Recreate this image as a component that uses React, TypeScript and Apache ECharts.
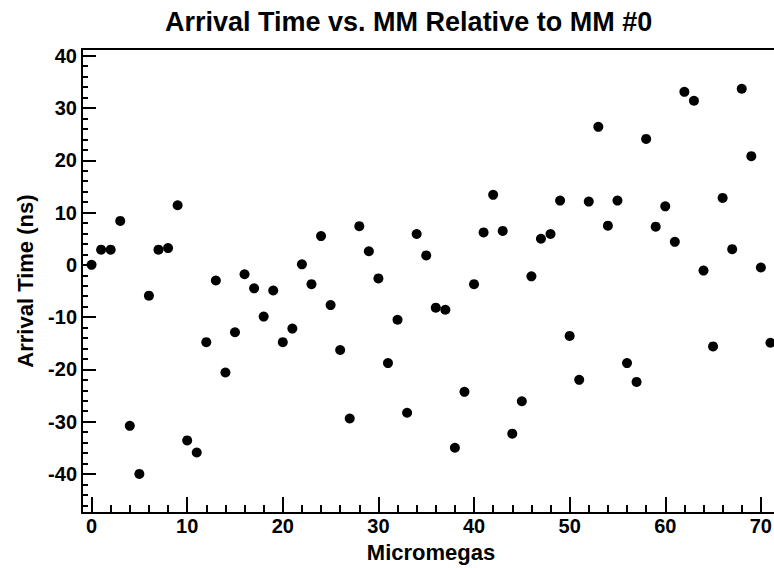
import React, { useEffect, useRef } from "react";
import * as echarts from "echarts";

const micromegas = [
  0, 1, 2, 3, 4, 5, 6, 7, 8, 9, 10, 11, 12, 13, 14, 15, 16, 17, 18, 19, 20, 21, 22, 23,
  24, 25, 26, 27, 28, 29, 30, 31, 32, 33, 34, 35, 36, 37, 38, 39, 40, 41, 42, 43, 44, 45, 46, 47,
  48, 49, 50, 51, 52, 53, 54, 55, 56, 57, 58, 59, 60, 61, 62, 63, 64, 65, 66, 67, 68, 69, 70, 71,
];

const arrivalTime = [
  0, 2.9, 2.9, 8.4, -30.8, -40.0, -5.9, 2.9, 3.2, 11.4, -33.6, -35.9,
  -14.8, -3.0, -20.6, -12.9, -1.8, -4.5, -9.9, -4.9, -14.8, -12.2, 0.1, -3.7,
  5.5, -7.7, -16.3, -29.4, 7.4, 2.6, -2.6, -18.8, -10.5, -28.3, 5.9, 1.8,
  -8.2, -8.6, -35.0, -24.3, -3.7, 6.2, 13.4, 6.5, -32.3, -26.1, -2.2, 5.0,
  5.9, 12.3, -13.6, -22.0, 12.1, 26.4, 7.5, 12.3, -18.8, -22.4, 24.1, 7.3,
  11.2, 4.4, 33.1, 31.4, -1.1, -15.6, 12.8, 3.0, 33.7, 20.8, -0.5, -14.9,
];

const xMajorTicks = [0, 10, 20, 30, 40, 50, 60, 70];
const xMinorTicks = [
  2, 4, 6, 8, 12, 14, 16, 18, 22, 24, 26, 28, 32, 34, 36, 38, 42, 44, 46, 48,
  52, 54, 56, 58, 62, 64, 66, 68,
];
const yMajorTicks = [-40, -30, -20, -10, 0, 10, 20, 30, 40];
const yMinorTicks = [
  -46, -44, -42, -38, -36, -34, -32, -28, -26, -24, -22, -18, -16, -14, -12,
  -8, -6, -4, -2, 2, 4, 6, 8, 12, 14, 16, 18, 22, 24, 26, 28, 32, 34, 36, 38,
];

const FONT = "'Liberation Sans', Arial, Helvetica, sans-serif";
const X_MIN = -1;
const X_MAX = 72;
const Y_MIN = -47.5;
const Y_MAX = 41.3;

export default function App() {
  const ref = useRef<HTMLDivElement>(null);

  useEffect(() => {
    if (!ref.current) return;
    const chart = echarts.init(ref.current, undefined, { renderer: "svg" });
    const tickLine = { color: "#000", width: 2 };
    const labelStyle = {
      fontSize: 20,
      fontWeight: "bold" as const,
      color: "#000",
      fontFamily: FONT,
    };
    chart.setOption({
      animation: false,
      backgroundColor: "#fff",
      title: {
        text: "Arrival Time vs. MM Relative to MM #0",
        left: 165,
        top: 8,
        padding: 0,
        textStyle: { fontSize: 27, fontWeight: "bold", color: "#000", fontFamily: FONT },
      },
      grid: {
        left: 82,
        right: 20,
        top: 49,
        bottom: 47,
        show: true,
        borderColor: "#000",
        borderWidth: 2,
        backgroundColor: "transparent",
      },
      xAxis: [
        {
          type: "value",
          min: X_MIN,
          max: X_MAX,
          position: "bottom",
          axisLine: { show: true, onZero: false, lineStyle: { color: "#000", width: 2 } },
          axisTick: { show: true, inside: true, length: 16, customValues: xMajorTicks, lineStyle: tickLine },
          axisLabel: { ...labelStyle, margin: 3, customValues: xMajorTicks },
          splitLine: { show: false },
          name: "Micromegas",
          nameLocation: "middle",
          nameGap: 24,
          nameTextStyle: { fontSize: 22, fontWeight: "bold", color: "#000", fontFamily: FONT },
        },
        {
          type: "value",
          min: X_MIN,
          max: X_MAX,
          position: "bottom",
          axisLine: { show: false, onZero: false },
          axisTick: { show: true, inside: true, length: 8, customValues: xMinorTicks, lineStyle: tickLine },
          axisLabel: { show: false },
          splitLine: { show: false },
        },
      ],
      yAxis: [
        {
          type: "value",
          min: Y_MIN,
          max: Y_MAX,
          position: "left",
          axisLine: { show: true, onZero: false, lineStyle: { color: "#000", width: 2 } },
          axisTick: { show: true, inside: true, length: 14, customValues: yMajorTicks, lineStyle: tickLine },
          axisLabel: { ...labelStyle, margin: 5, customValues: yMajorTicks },
          splitLine: { show: false },
          name: "Arrival Time (ns)",
          nameLocation: "middle",
          nameGap: 46,
          nameRotate: 90,
          nameTextStyle: { fontSize: 22, fontWeight: "bold", color: "#000", fontFamily: FONT },
        },
        {
          type: "value",
          min: Y_MIN,
          max: Y_MAX,
          position: "left",
          axisLine: { show: false, onZero: false },
          axisTick: { show: true, inside: true, length: 6, customValues: yMinorTicks, lineStyle: tickLine },
          axisLabel: { show: false },
          splitLine: { show: false },
        },
      ],
      series: [
        {
          type: "scatter",
          xAxisIndex: 0,
          yAxisIndex: 0,
          symbol: "circle",
          symbolSize: 10,
          itemStyle: { color: "#000", opacity: 1 },
          data: micromegas.map((m, i) => [m, arrivalTime[i]]),
        },
      ],
    });
    return () => chart.dispose();
  }, []);

  return (
    <div style={{ position: "absolute", left: 0, top: 0, width: 774, height: 568, overflow: "hidden", background: "#fff" }}>
      <div ref={ref} style={{ width: 800, height: 568 }} />
    </div>
  );
}
